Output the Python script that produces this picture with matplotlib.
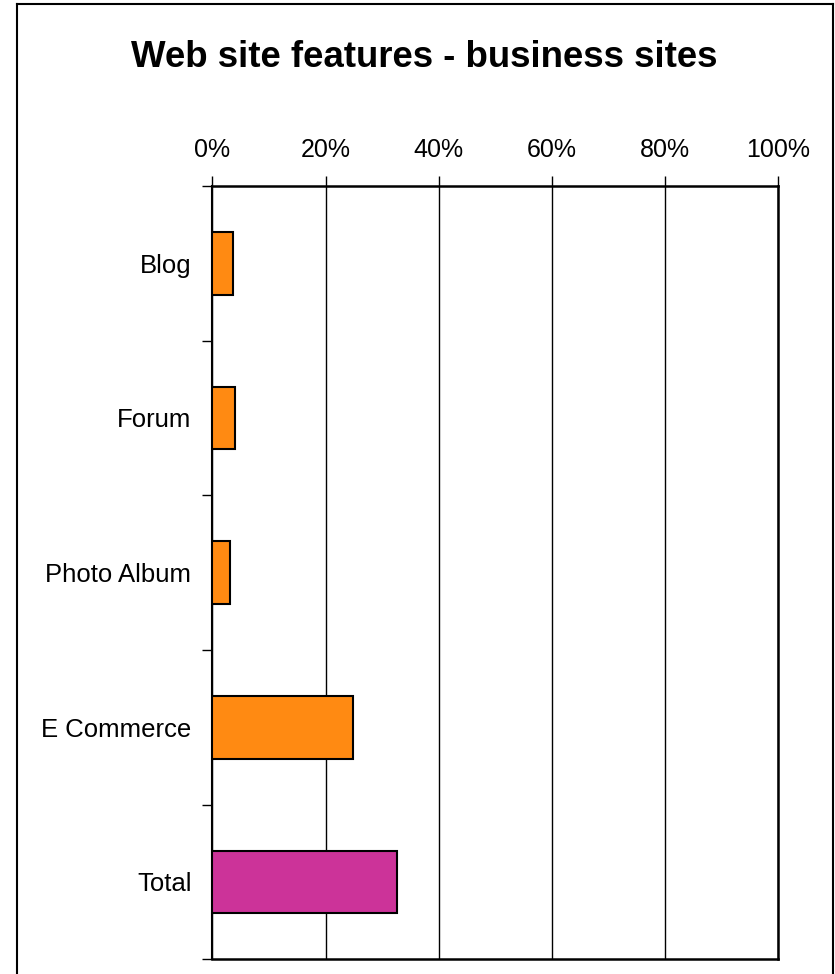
import matplotlib
matplotlib.use("Agg")
import matplotlib.pyplot as plt
from matplotlib.lines import Line2D
import numpy as np

plt.rcParams['font.family'] = ['Liberation Sans', 'DejaVu Sans']

categories = ["Blog", "Forum", "Photo Album", "E Commerce", "Total"]
values = [3.6, 4.0, 3.2, 24.8, 32.6]
colors = ["#FF8A12", "#FF8A12", "#FF8A12", "#FF8A12", "#CC3399"]
x_ticks = [0, 20, 40, 60, 80, 100]
x_tick_labels = ["0%", "20%", "40%", "60%", "80%", "100%"]
title = "Web site features - business sites"

W, H = 835, 974
fig = plt.figure(figsize=(W / 100, H / 100), dpi=100)
ax = fig.add_axes([212.3 / W, 1 - 959.3 / H, (778.3 - 212.3) / W, (959.3 - 186) / H])

y = np.arange(len(categories))
ax.barh(y, values, height=0.405, color=colors, edgecolor="black", linewidth=1.5, zorder=3)

ax.set_xlim(0, 100)
ax.set_ylim(len(categories) - 0.5, -0.5)

ax.xaxis.tick_top()
ax.set_xticks(x_ticks)
ax.set_xticklabels(x_tick_labels, fontsize=18)
ax.tick_params(axis="x", direction="out", length=7, width=1, pad=10.5, top=True, bottom=False)
ax.grid(axis="x", color="black", linewidth=1, zorder=1)

ax.set_yticks(y)
ax.set_yticklabels(categories, fontsize=18.5)
ax.tick_params(axis="y", which="major", length=0, pad=15)
ax.set_yticks(np.arange(-0.5, len(categories) + 0.5, 1), minor=True)
ax.tick_params(axis="y", which="minor", direction="out", length=7, width=1)

for s in ax.spines.values():
    s.set_linewidth(1.8)
    s.set_color("black")
ax.spines["left"].set_linewidth(1.5)

fig.text((16 + 833) / 2 / W, 1 - 67 / H, title, ha="center", va="baseline",
         fontsize=26.4, fontweight="bold")

# outer chart frame
lw = 1.5
fig.add_artist(Line2D([16.5 / W, 16.5 / W], [0, 1 - 3.5 / H], color="black", linewidth=lw, transform=fig.transFigure))
fig.add_artist(Line2D([16.5 / W, 833 / W], [1 - 3.5 / H, 1 - 3.5 / H], color="black", linewidth=lw, transform=fig.transFigure))
fig.add_artist(Line2D([833 / W, 833 / W], [0, 1 - 3.5 / H], color="black", linewidth=lw, transform=fig.transFigure))

fig.savefig("out.png", dpi=100)
